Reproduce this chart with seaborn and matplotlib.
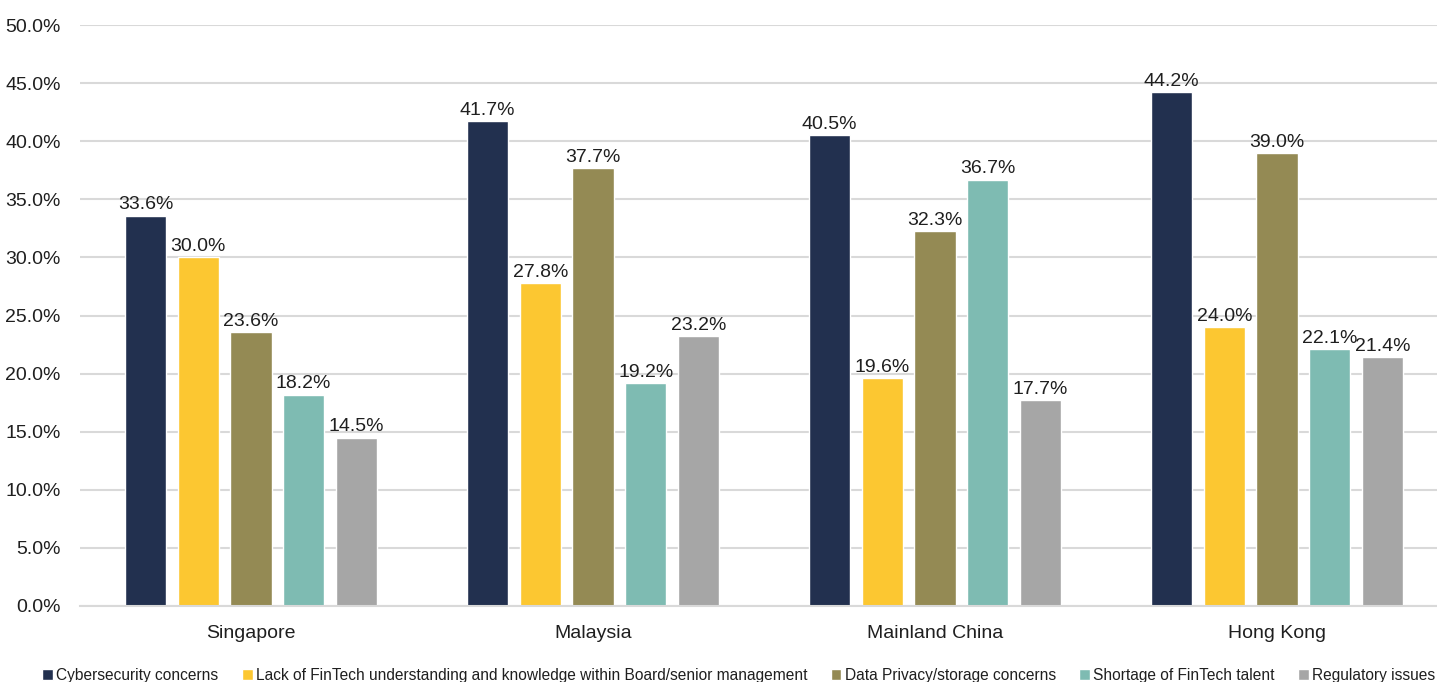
import matplotlib
matplotlib.use("Agg")
import matplotlib.pyplot as plt
from matplotlib.ticker import PercentFormatter, MultipleLocator
import seaborn as sns
import pandas as pd

regions = ["Singapore", "Malaysia", "Mainland China", "Hong Kong"]
series = [
    "Cybersecurity concerns",
    "Lack of FinTech understanding and knowledge within Board/senior management",
    "Data Privacy/storage concerns",
    "Shortage of FinTech talent",
    "Regulatory issues",
]
cyber = [33.6, 41.7, 40.5, 44.2]
lack_understanding = [30.0, 27.8, 19.6, 24.0]
privacy = [23.6, 37.7, 32.3, 39.0]
talent = [18.2, 19.2, 36.7, 22.1]
regulatory = [14.5, 23.2, 17.7, 21.4]

colors = ["#22304F", "#FCC731", "#948A54", "#7EBBB2", "#A6A6A6"]

rows = []
for name, vals in zip(series, [cyber, lack_understanding, privacy, talent, regulatory]):
    for reg, v in zip(regions, vals):
        rows.append({"Region": reg, "Issue": name, "Value": v})
df = pd.DataFrame(rows)

sns.set_theme(style="white")
plt.rcParams["font.family"] = ["Liberation Sans", "DejaVu Sans"]

fig = plt.figure(figsize=(14.37, 6.82), dpi=100)
ax = fig.add_axes([80 / 1437, 76 / 682, 1368 / 1437, 581 / 682])

sns.barplot(
    data=df, x="Region", y="Value", hue="Issue", order=regions, hue_order=series,
    palette=colors, width=0.77, gap=0.22, saturation=1, ax=ax, legend=True,
    errorbar=None,
)

ax.set_ylim(0, 50)
ax.set_xlim(-0.5, 3.5)
ax.yaxis.set_major_locator(MultipleLocator(5))
ax.yaxis.set_major_formatter(PercentFormatter(decimals=1))
ax.grid(axis="y", color="#D9D9D9", linewidth=1.5)
ax.set_axisbelow(True)
for side in ["top", "right", "left"]:
    ax.spines[side].set_visible(False)
ax.spines["bottom"].set_color("#D9D9D9")
ax.spines["bottom"].set_linewidth(1.5)
ax.set_xlabel("")
ax.set_ylabel("")
ax.tick_params(axis="y", labelsize=14, colors="#1F1F1F", length=0, pad=14)
ax.tick_params(axis="x", labelsize=14, colors="#1F1F1F", length=0, pad=14)

for container in ax.containers:
    ax.bar_label(container, fmt="%.1f%%", padding=1.5, fontsize=14, color="#1F1F1F")

handles, labels = ax.get_legend_handles_labels()
ax.legend_.remove()
fig.legend(
    handles, labels, loc="lower center", bbox_to_anchor=(0.514, -0.022), ncol=5,
    frameon=False, fontsize=11.2, handlelength=0.7, handleheight=0.7,
    handletextpad=0.2, columnspacing=1.5, labelcolor="#1F1F1F",
)

fig.savefig("out.png", dpi=100)
